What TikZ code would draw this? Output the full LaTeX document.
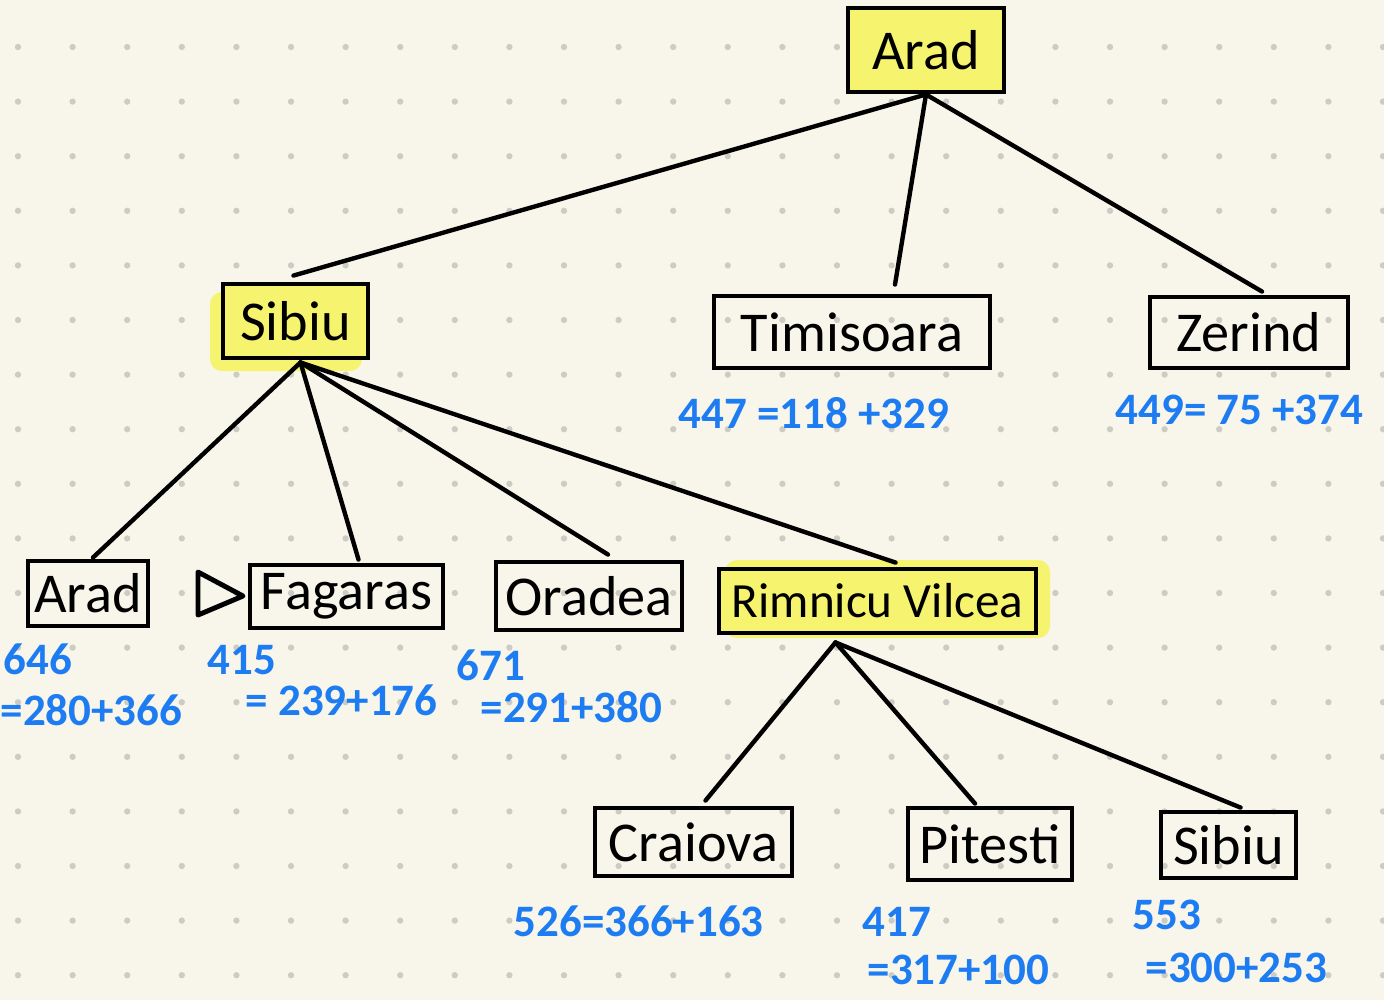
\documentclass[tikz,border=0pt]{standalone}
\usepackage{fontspec}
\setmainfont{Carlito}
\usetikzlibrary{calc,positioning}

\definecolor{paper}{RGB}{248,246,234}
\definecolor{dotgray}{RGB}{204,204,196}
\definecolor{marker}{RGB}{246,243,110}
\definecolor{pen}{RGB}{30,124,242}

\tikzset{
  city/.style={draw,line width=1.4pt,inner sep=0pt,font=\fontsize{16}{19}\selectfont},
  seen/.style={city,fill=marker},
  cost/.style={inner sep=0pt,anchor=west,text=pen,font=\bfseries\fontsize{12.8}{15}\selectfont},
  branch/.style={line width=1.25pt,line cap=round}
}

\begin{document}
\begin{tikzpicture}[x=0.1mm,y=-0.1mm]

    \useasboundingbox (0,0) rectangle (1384,1000);
    \fill[paper] (0,0) rectangle (1384,1000);
    \foreach \i in {0,...,25}
      \foreach \j in {0,...,17}
        \fill[dotgray] (18+54.6*\i,47+54.6*\j) circle (0.9pt);

    % highlighter
    \fill[marker,rounded corners=1.2mm] (210,292) rectangle (362,371);
    \fill[marker,rounded corners=1.2mm] (725,560) rectangle (1050,638);

    % tree
    \node[seen,minimum width=15.6mm,minimum height=8.4mm] (arad) at (926,50) {Arad};
    \node[seen,minimum width=14.5mm,minimum height=7.4mm] (sibiu) at (295.5,321) {Sibiu};
    \node[city,minimum width=27.6mm,minimum height=7.2mm] (timisoara) at (852,332) {Timisoara};
    \node[city,minimum width=19.8mm,minimum height=7.1mm] (zerind) at (1249,332.5) {Zerind};

    \node[city,minimum width=12mm,minimum height=6.5mm] (arad2) at (88,593.5) {Arad};
    \node[city,minimum width=19.3mm,minimum height=6.3mm] (fagaras) at (346.5,596.5) {Fagaras};
    \node[city,minimum width=18.6mm,minimum height=6.8mm] (oradea) at (589,596) {Oradea};
    \node[seen,minimum width=31.7mm,minimum height=6.4mm,font=\fontsize{14}{17}\selectfont] (rimnicu) at (877.5,601) {Rimnicu Vilcea};

    \node[city,minimum width=19.7mm,minimum height=6.8mm] (craiova) at (693.5,842) {Craiova};
    \node[city,minimum width=16.4mm,minimum height=7.2mm] (pitesti) at (990,844) {Pitesti};
    \node[city,minimum width=13.5mm,minimum height=6.6mm] (sibiu2) at (1228.5,845) {Sibiu};

    \draw[line width=1.4pt,line join=round] (198,572) -- (243,596) -- (198,615) -- cycle; % next

    \draw[branch] (arad.south) -- ($(sibiu.north)+(-2,-6)$);
    \draw[branch] (arad.south) -- ($(timisoara.north)+(43,-9)$);
    \draw[branch] (arad.south) -- ($(zerind.north)+(13,-3)$);

    \draw[branch] ($(sibiu.south)+(5,2)$) -- ($(arad2.north)+(5,-1)$);
    \draw[branch] ($(sibiu.south)+(5,2)$) -- ($(fagaras.north)+(12,-3)$);
    \draw[branch] ($(sibiu.south)+(5,2)$) -- ($(oradea.north)+(19,-5)$);
    \draw[branch] ($(sibiu.south)+(5,2)$) -- ($(rimnicu.north)+(18,-4)$);

    \draw[branch] ($(rimnicu.south)+(-42,7)$) -- ($(craiova.north)+(12,-5)$);
    \draw[branch] ($(rimnicu.south)+(-42,7)$) -- ($(pitesti.north)+(-15,-2)$);
    \draw[branch] ($(rimnicu.south)+(-42,7)$) -- ($(sibiu2.north)+(12,-2)$);

    % f = g + h
    \node[cost] (f-timisoara) at (678,413) {447 =118 +329};
    \node[cost] (f-zerind) at (1115,410) {449= 75 +374};
    \node[cost] (f-arad2) at (3,659) {646};
    \node[cost] (gh-arad2) at (0,710) {=280+366};
    \node[cost] (f-fagaras) at (207,660) {415};
    \node[cost] (gh-fagaras) at (245,700) {= 239+176};
    \node[cost] (f-oradea) at (456,665) {671};
    \node[cost] (gh-oradea) at (480,707) {=291+380};
    \node[cost] (f-craiova) at (513,921) {526=366+163};
    \node[cost] (f-pitesti) at (862,922) {417};
    \node[cost] (gh-pitesti) at (867,970) {=317+100};
    \node[cost] (f-sibiu2) at (1132,915) {553};
    \node[cost] (gh-sibiu2) at (1145,968) {=300+253};

\end{tikzpicture}
\end{document}
